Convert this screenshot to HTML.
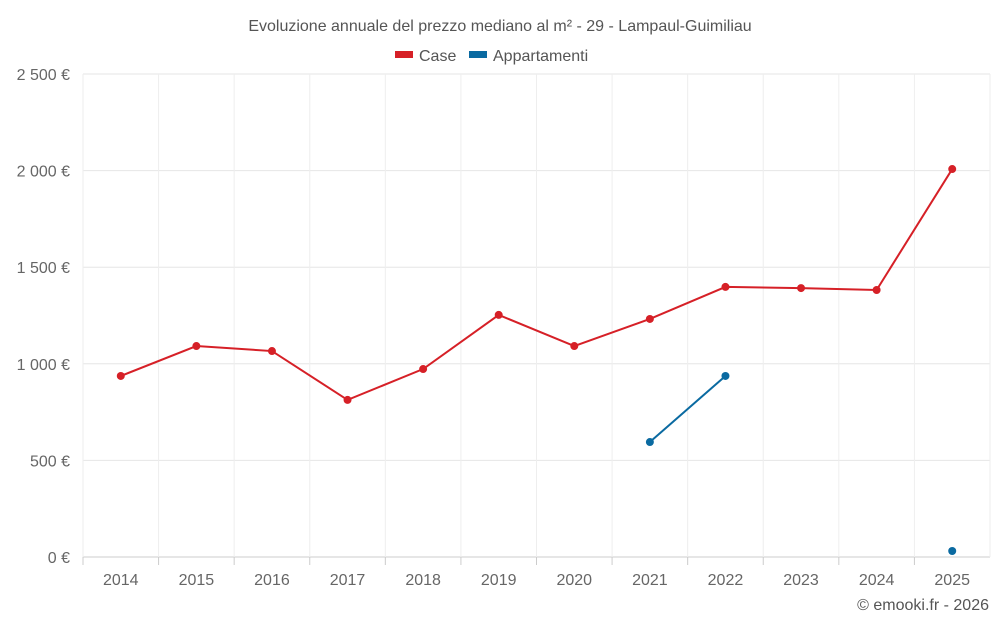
<!DOCTYPE html>
<html><head><meta charset="utf-8"><style>
body{margin:0;background:#fff;font-family:"Liberation Sans",sans-serif;}
svg text{font-family:"Liberation Sans",sans-serif;}
</style></head><body>
<svg id="chart" width="1000" height="625" xmlns="http://www.w3.org/2000/svg">
<text x="500" y="31" text-anchor="middle" font-size="16" fill="#555">Evoluzione annuale del prezzo mediano al m² - 29 - Lampaul-Guimiliau</text>
<g>
<g><rect x="395" y="51" width="18" height="7" fill="#d62027"/><text x="419" y="61" font-size="16" fill="#555">Case</text></g>
<g><rect x="469" y="51" width="18" height="7" fill="#0a6aa1"/><text x="493" y="61" font-size="16" fill="#555">Appartamenti</text></g>
</g>
<g id="grid"></g><g id="axes"></g><g id="series"></g>
<text x="989" y="610" text-anchor="end" font-size="16" fill="#555">© emooki.fr - 2026</text>
</svg>
<script>
const categories=["2014","2015","2016","2017","2018","2019","2020","2021","2022","2023","2024","2025"];
const caseValues=[937,1092,1066,813,973,1253,1092,1232,1398,1392,1382,2008];
const apptValues=[null,null,null,null,null,null,null,595,937,null,null,31];
const yTicks=[0,500,1000,1500,2000,2500];
const yTickLabels=["0 €","500 €","1 000 €","1 500 €","2 000 €","2 500 €"];
const NS="http://www.w3.org/2000/svg";
const L=83,R=990,T=74,B=557,yMax=2500;
const bw=(R-L)/categories.length;
const x=i=>L+bw*(i+0.5);
const y=v=>B-(v/yMax)*(B-T);
function mk(tag,attrs,parent){const e=document.createElementNS(NS,tag);for(const k in attrs)e.setAttribute(k,attrs[k]);parent.appendChild(e);return e;}
const grid=document.getElementById('grid'),axes=document.getElementById('axes'),ser=document.getElementById('series');
yTicks.forEach((t,i)=>{
 const l=mk('line',{x1:L,x2:R,y1:y(t),y2:y(t),stroke:i==0?'#ccc':'#e6e6e6','stroke-width':1},grid);
 
 
 const tx=mk('text',{x:70,y:y(t)+6,'text-anchor':'end','font-size':16,fill:'#666'},axes);
 tx.textContent=yTickLabels[i];
 
 
});
for(let i=0;i<=categories.length;i++){
 const l=mk('line',{x1:L+bw*i,x2:L+bw*i,y1:T,y2:B,stroke:'#eee','stroke-width':1},grid);
 
 
}
categories.forEach((c,i)=>{
 const tk=mk('line',{x1:L+bw*i,x2:L+bw*i,y1:B,y2:B+8,stroke:'#ccc'},axes);
 
 
 const tx=mk('text',{x:x(i),y:585,'text-anchor':'middle','font-size':16,fill:'#666'},axes);
 tx.textContent=c;
 
 
});
function drawSeries(vals,color,name){
 let d='',pen=false;
 vals.forEach((v,i)=>{if(v==null){pen=false;return;}d+=(pen?'L':'M')+x(i)+' '+y(v)+' ';pen=true;});
 const p=mk('path',{d:d,fill:'none',stroke:color,'stroke-width':2},ser);
 
 
 vals.forEach((v,i)=>{if(v==null)return;
  const c=mk('circle',{cx:x(i),cy:y(v),r:4,fill:color},ser);
  
  
 });
}
drawSeries(caseValues,'#d62027','case');
drawSeries(apptValues,'#0a6aa1','appartamenti');
</script>
</body></html>
